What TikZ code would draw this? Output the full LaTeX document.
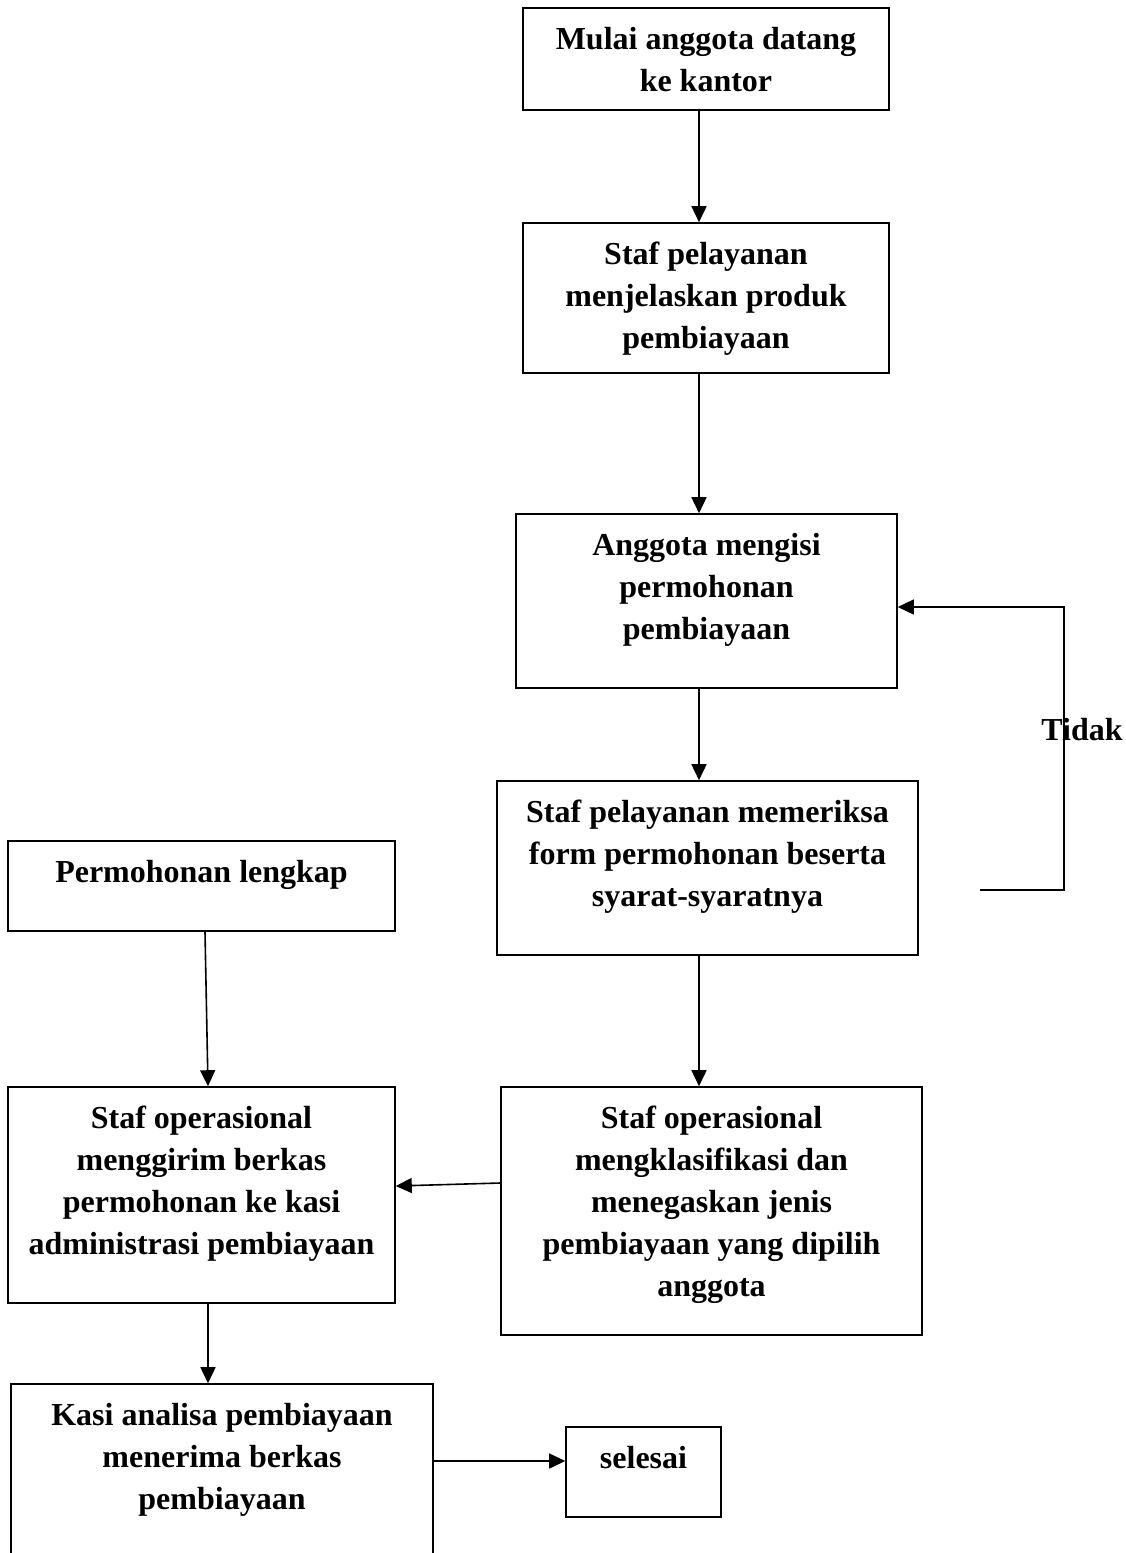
\documentclass[tikz,border=0pt]{standalone}
\usepackage{fontspec}
\setmainfont{Liberation Serif}
\usetikzlibrary{arrows.meta,positioning}

\begin{document}
\begin{tikzpicture}[x=1pt, y=-1pt,
  box/.style={draw, line width=1.6pt, rectangle, inner sep=0pt},
  txt/.style={font=\bfseries\fontsize{32}{42}\selectfont, align=center, inner sep=0pt},
  arr/.style={line width=1.6pt, -{Triangle[length=16pt, width=15pt]}}]
  \clip (0,0) rectangle (1126,1553);
  \node[box, minimum width=366pt, minimum height=102pt] (mulai) at (706, 59) {};
  \node[box, minimum width=366pt, minimum height=150pt] (jelas) at (706, 298) {};
  \node[box, minimum width=381pt, minimum height=174pt] (isi) at (706.5, 601) {};
  \node[box, minimum width=421pt, minimum height=174pt] (periksa) at (707.5, 868) {};
  \node[box, minimum width=387pt, minimum height=90pt] (lengkap) at (201.5, 886) {};
  \node[box, minimum width=387pt, minimum height=216pt] (kirim) at (201.5, 1195) {};
  \node[box, minimum width=421pt, minimum height=248pt] (klas) at (711.5, 1211) {};
  \node[box, minimum width=422pt, minimum height=216pt] (terima) at (222, 1492) {};
  \node[box, minimum width=155pt, minimum height=90pt] (selesai) at (643.5, 1472) {};

  \node[txt, below=12.6pt of mulai.north] (mulaitxt) {\strut Mulai anggota datang\\ke kantor};
  \node[txt, below=12.6pt of jelas.north] (jelastxt) {\strut Staf pelayanan\\menjelaskan produk\\pembiayaan};
  \node[txt, below=12.6pt of isi.north] (isitxt) {\strut Anggota mengisi\\permohonan\\pembiayaan};
  \node[txt, below=12.6pt of periksa.north] (periksatxt) {\strut Staf pelayanan memeriksa\\form permohonan beserta\\syarat-syaratnya};
  \node[txt, below=12.6pt of lengkap.north] (lengkaptxt) {\strut Permohonan lengkap};
  \node[txt, below=12.6pt of kirim.north] (kirimtxt) {\strut Staf operasional\\menggirim berkas\\permohonan ke kasi\\administrasi pembiayaan};
  \node[txt, below=12.6pt of klas.north] (klastxt) {\strut Staf operasional\\mengklasifikasi dan\\menegaskan jenis\\pembiayaan yang dipilih\\anggota};
  \node[txt, below=12.6pt of terima.north] (terimatxt) {\strut Kasi analisa pembiayaan\\menerima berkas\\pembiayaan};
  \node[txt, below=12.6pt of selesai.north] (selesaitxt) {\strut selesai};

  \coordinate (ax) at (699, 0);
  \coordinate (lx) at (208, 0);
  \coordinate (ly) at (0, 1461);
  \coordinate (tk0) at (980, 890);
  \coordinate (tk1) at (1064, 607);
  \draw[arr] (mulai.south -| ax) -- (jelas.north -| ax);
  \draw[arr] (jelas.south -| ax) -- (isi.north -| ax);
  \draw[arr] (isi.south -| ax) -- (periksa.north -| ax);
  \draw[arr] (periksa.south -| ax) -- (klas.north -| ax);
  \draw[arr] ([yshift=28pt]klas.west) -- ([yshift=9pt]kirim.east);
  \draw[arr] ([xshift=3.5pt]lengkap.south) -- ([xshift=6.5pt]kirim.north);
  \draw[arr] (kirim.south -| lx) -- (terima.north -| lx);
  \draw[arr] (terima.east |- ly) -- (selesai.west |- ly);
  \draw[arr] (tk0) -| (tk1) -- (isi.east |- tk1);
  \node[txt] (tidak) at (1082, 730) {Tidak};
\end{tikzpicture}
\end{document}
